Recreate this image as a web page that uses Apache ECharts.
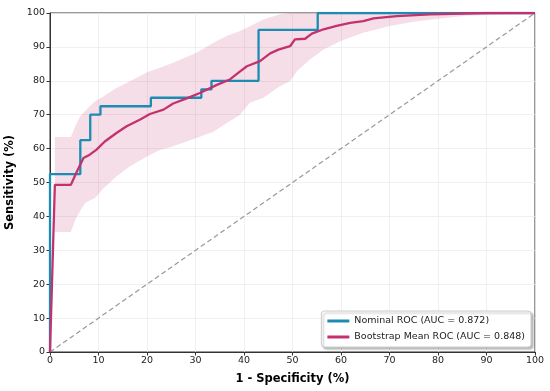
<!DOCTYPE html>
<html>
<head>
<meta charset="utf-8">
<script src="https://cdn.jsdelivr.net/npm/echarts@6/dist/echarts.min.js"></script>
<style>html,body{margin:0;padding:0;background:#fff}#c{width:550px;height:391px}</style>
</head>
<body>
<div id="c"></div>
<script>
// Nominal ROC (step points)
var nominalFpr = [0, 0, 6.25, 6.25, 8.3, 8.3, 10.4, 10.4, 20.8, 20.8, 31.2, 31.2, 33.3, 33.3, 43.0, 43.0, 55.2, 55.2, 100];
var nominalTpr = [0, 52.5, 52.5, 62.5, 62.5, 70, 70, 72.5, 72.5, 75, 75, 77.5, 77.5, 80, 80, 95, 95, 100, 100];

// Bootstrap mean ROC
var meanFpr = [0, 1.0, 4.3, 5.4, 6.9, 8.2, 9.6, 11.3, 13.7, 15.8, 18.6, 20.6, 23.4, 25.4, 28.2, 30.9, 34.4, 37.1, 39.2, 40.6, 43.3, 45.4, 47.1, 49.5, 50.5, 52.6, 54.0, 56.4, 59.1, 61.9, 64.6, 66.7, 71.5, 78.4, 90, 100];
var meanTpr = [0, 49.3, 49.3, 52.8, 57.2, 58.2, 59.7, 62.1, 64.6, 66.6, 68.6, 70.2, 71.5, 73.3, 74.8, 76.4, 78.8, 80.4, 82.8, 84.3, 85.8, 88.1, 89.2, 90.2, 92.2, 92.4, 93.9, 95.2, 96.2, 97.1, 97.6, 98.4, 99.1, 99.6, 100, 100];

// Confidence band
var bandFpr   = [1.0, 4.3, 5.2, 6.2, 7.2, 8.2, 9.3, 11.0, 13.7, 16.5, 20.0, 22.5, 25.4, 30.2, 33.7, 36.4, 39.2, 41.2, 44.0, 47.4, 49.5, 50.9, 53.6, 56.4, 59.8, 64.6, 70.1, 75.6, 85.2, 100];
var bandLower = [35.4, 35.4, 39.0, 41.5, 43.9, 44.7, 45.4, 48.2, 51.8, 54.8, 57.7, 59.5, 60.7, 63.1, 65.0, 67.5, 70.0, 73.5, 75.0, 78.4, 79.9, 82.8, 86.3, 89.2, 91.7, 94.2, 96.2, 97.6, 99.1, 100];
var bandUpper = [63.4, 63.4, 66.5, 69.5, 71.0, 72.5, 74.0, 75.4, 77.9, 79.9, 82.5, 83.8, 85.3, 88.3, 91.2, 93.2, 94.7, 96.1, 98.1, 99.6, 100, 100, 100, 100, 100, 100, 100, 100, 100, 100];

var diagX = [0, 100];
var diagY = [0, 100];

var nominalName = 'Nominal ROC (AUC = 0.872)';
var meanName = 'Bootstrap Mean ROC (AUC = 0.848)';

function zip(a, b) { return a.map(function (v, i) { return [v, b[i]]; }); }

var bandData = bandFpr.map(function (x, i) { return [x, bandLower[i], bandUpper[i]]; });

var chart = echarts.init(document.getElementById('c'), null, { renderer: 'canvas' });
var font = 'DejaVu Sans';
chart.setOption({
  animation: false,
  backgroundColor: '#fff',
  grid: { left: 50, right: 15, top: 13, bottom: 39, show: true, borderColor: '#333', borderWidth: 1, backgroundColor: 'transparent', containLabel: false, outerBoundsMode: 'none' },
  xAxis: {
    type: 'value', min: 0, max: 100, interval: 10,
    name: '1 - Specificity (%)', nameLocation: 'middle', nameGap: 21,
    nameTextStyle: { fontFamily: font, fontWeight: 'bold', fontSize: 11.5, color: '#000' },
    axisLine: { show: true, lineStyle: { color: '#333', width: 1 } },
    axisTick: { show: true, length: 3.5, lineStyle: { color: '#333' } },
    axisLabel: { fontFamily: font, fontSize: 9.5, color: '#222', margin: 4 },
    splitLine: { show: true, lineStyle: { color: '#ececec', width: 0.8 } }
  },
  yAxis: {
    type: 'value', min: 0, max: 100, interval: 10,
    name: 'Sensitivity (%)', nameLocation: 'middle', nameGap: 27, nameRotate: 90,
    nameTextStyle: { fontFamily: font, fontWeight: 'bold', fontSize: 11.5, color: '#000' },
    axisLine: { show: true, lineStyle: { color: '#333', width: 1 } },
    axisTick: { show: true, length: 3.5, lineStyle: { color: '#333' } },
    axisLabel: { fontFamily: font, fontSize: 9.5, color: '#222', margin: 5 },
    splitLine: { show: true, lineStyle: { color: '#ececec', width: 0.8 } }
  },
  legend: {
    data: [nominalName, meanName],
    orient: 'vertical', right: 19, bottom: 44,
    icon: 'rect', itemWidth: 22, itemHeight: 3, itemGap: 6,
    textStyle: { fontFamily: font, fontSize: 9.5, color: '#222' },
    backgroundColor: '#fff', borderColor: '#ccc', borderWidth: 1, borderRadius: 3,
    padding: [5, 6, 5, 6],
    shadowColor: 'rgba(0,0,0,0.25)', shadowBlur: 2, shadowOffsetX: 2, shadowOffsetY: 2
  },
  series: [
    {
      name: 'band', type: 'custom', silent: true, z: 1,
      data: bandData,
      encode: { x: 0, y: [1, 2] },
      renderItem: function (params, api) {
        if (params.dataIndex !== 0) return null;
        var pts = [];
        for (var i = 0; i < bandData.length; i++) pts.push(api.coord([bandData[i][0], bandData[i][2]]));
        for (var j = bandData.length - 1; j >= 0; j--) pts.push(api.coord([bandData[j][0], bandData[j][1]]));
        return { type: 'polygon', shape: { points: pts }, style: { fill: 'rgba(200,48,110,0.16)' } };
      }
    },
    {
      name: 'diag', type: 'line', symbol: 'none', silent: true,
      data: zip(diagX, diagY),
      lineStyle: { color: '#999', width: 1.2, type: [5, 3] }, z: 2
    },
    {
      name: nominalName, type: 'line', symbol: 'none',
      data: zip(nominalFpr, nominalTpr),
      lineStyle: { color: '#1d8bb2', width: 2.3 }, itemStyle: { color: '#1d8bb2' }, z: 3
    },
    {
      name: meanName, type: 'line', symbol: 'none',
      data: zip(meanFpr, meanTpr),
      lineStyle: { color: '#c2326f', width: 2.3 }, itemStyle: { color: '#c2326f' }, z: 4
    }
  ]
});
</script>
</body>
</html>
